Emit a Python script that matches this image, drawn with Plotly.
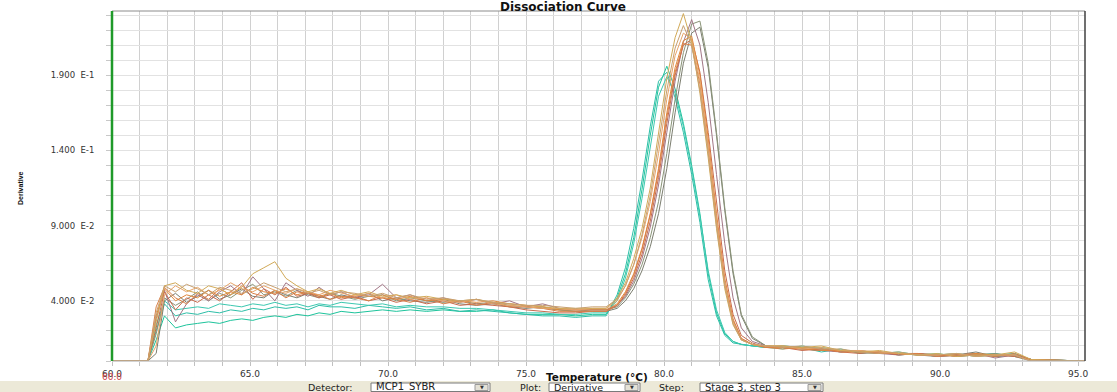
import plotly.graph_objects as go

# Temperature grid (deg C)
temperature = [60.0, 61.3, 61.6, 61.9, 62.3, 62.7, 63.1, 63.5, 63.9, 64.3, 64.7, 65.1, 65.5, 65.9,
               66.3, 66.7, 67.1, 67.5, 67.9, 68.3, 68.8, 69.3, 69.8, 70.3, 70.8, 71.4, 72.0, 72.6,
               73.2, 73.8, 74.4, 75.0, 75.6, 76.2, 76.8, 77.4, 77.9, 78.3, 78.6, 78.9, 79.2, 79.5,
               79.8, 80.1, 80.4, 80.7, 81.0, 81.3, 81.6, 81.9, 82.2, 82.5, 82.8, 83.2, 83.7, 84.3,
               85.0, 85.7, 86.4, 87.1, 87.8, 88.5, 89.2, 89.9, 90.6, 91.3, 92.0, 92.7, 93.3, 95.25]

# Derivative values, in units of 1e-3
teal_1 = [0, 0, 14, 30, 22, 24, 25, 26, 25, 27, 28, 27, 29, 30, 29, 31, 30, 32, 31, 33, 32, 33, 34, 33,
          34, 33, 34, 33, 33, 34, 32, 31, 31, 31, 30, 31,
          31, 42, 58, 82, 114, 150, 182, 196, 181, 158, 130, 98, 58, 32, 18, 13, 11, 10, 9,
          9, 8, 9, 7, 6, 5, 6, 4, 4, 5, 3, 4, 5, 1, 0]
teal_2 = [0, 0, 20, 38, 30, 32, 31, 33, 32, 34, 33, 35, 34, 36, 35, 36, 34, 37, 36, 36, 35, 37, 36, 35,
          36, 34, 35, 33, 34, 33, 32, 31, 30, 30, 29, 30,
          30, 44, 62, 88, 120, 156, 186, 192, 175, 152, 124, 92, 54, 30, 17, 12, 11, 10, 9,
          10, 9, 6, 8, 5, 6, 4, 5, 3, 4, 5, 3, 4, 1, 0]
teal_3 = [0, 0, 24, 40, 34, 35, 36, 35, 38, 37, 36, 38, 37, 39, 37, 38, 36, 38, 37, 39, 38, 37, 38, 36,
          37, 36, 36, 35, 35, 34, 33, 32, 32, 31, 31, 32,
          32, 40, 55, 78, 108, 143, 176, 189, 178, 156, 128, 96, 60, 34, 19, 13, 11, 10, 9,
          8, 10, 8, 6, 7, 5, 5, 4, 5, 3, 4, 5, 3, 1, 0]
orange_1 = [0, 0, 30, 48, 40, 44, 42, 47, 43, 46, 44, 49, 46, 45, 48, 44, 46, 43, 45, 42, 44, 43, 42, 41,
            43, 40, 41, 40, 39, 40, 38, 37, 36, 34, 34, 34,
            34, 38, 46, 58, 75, 98, 128, 165, 195, 213, 216, 190, 148, 98, 55, 28, 15, 11, 9,
            9, 8, 7, 7, 6, 6, 5, 4, 4, 4, 5, 4, 4, 0, 0]
orange_2 = [0, 0, 36, 49, 42, 38, 45, 41, 48, 44, 50, 45, 43, 47, 42, 46, 45, 44, 41, 43, 42, 40, 44, 41,
            39, 42, 38, 40, 37, 39, 36, 36, 35, 33, 33, 33,
            33, 37, 45, 57, 74, 97, 126, 162, 192, 211, 210, 184, 142, 94, 52, 27, 15, 11, 9,
            8, 9, 8, 6, 6, 5, 5, 5, 3, 4, 4, 3, 5, 1, 0]
orange_3 = [0, 0, 10, 44, 50, 46, 49, 44, 47, 52, 48, 46, 50, 47, 45, 48, 46, 44, 47, 45, 43, 45, 42, 44,
            41, 42, 40, 39, 41, 38, 37, 36, 35, 35, 34, 35,
            35, 40, 50, 64, 82, 106, 138, 174, 203, 218, 214, 186, 143, 94, 52, 26, 14, 11, 10,
            10, 8, 9, 7, 7, 6, 5, 4, 4, 5, 3, 4, 4, 0, 0]
rust_1 = [0, 0, 22, 46, 34, 42, 39, 44, 40, 46, 52, 41, 48, 44, 49, 43, 45, 42, 44, 41, 43, 40, 42, 39,
          41, 38, 40, 37, 38, 37, 36, 34, 33, 32, 32, 33,
          33, 37, 44, 55, 71, 93, 122, 158, 190, 210, 214, 192, 152, 104, 60, 31, 17, 12, 9,
          9, 7, 8, 6, 5, 6, 4, 5, 4, 3, 4, 4, 3, 1, 0]
gray_1 = [0, 0, 5, 40, 45, 39, 43, 47, 41, 44, 48, 43, 42, 47, 44, 42, 45, 43, 41, 44, 42, 45, 40, 42,
          40, 39, 41, 38, 37, 38, 36, 35, 36, 34, 33, 33,
          33, 35, 40, 48, 60, 76, 98, 128, 165, 198, 218, 222, 195, 150, 100, 58, 30, 15, 10,
          9, 8, 7, 7, 6, 5, 5, 4, 3, 4, 6, 3, 4, 1, 0]
gray_2 = [0, 0, 18, 42, 37, 41, 46, 40, 45, 42, 47, 51, 44, 46, 43, 47, 44, 42, 45, 43, 41, 43, 44, 40,
          42, 40, 39, 40, 38, 39, 37, 36, 35, 34, 33, 34,
          34, 36, 42, 51, 64, 82, 106, 138, 174, 205, 224, 226, 198, 152, 102, 60, 31, 16, 10,
          10, 9, 8, 7, 6, 6, 5, 5, 4, 4, 4, 5, 3, 0, 0]
tan_1 = [0, 0, 26, 50, 52, 47, 45, 50, 48, 44, 49, 58, 62, 66, 55, 50, 46, 48, 45, 47, 44, 46, 43, 44,
         42, 43, 41, 40, 41, 39, 38, 37, 36, 35, 35, 35,
         35, 42, 52, 68, 88, 115, 150, 188, 215, 231, 212, 178, 135, 88, 48, 24, 14, 11, 10,
         10, 9, 10, 7, 6, 7, 5, 4, 5, 3, 4, 4, 6, 1, 0]
tan_2 = [0, 0, 32, 50, 46, 51, 48, 44, 49, 47, 45, 48, 52, 49, 46, 48, 45, 47, 44, 46, 45, 43, 45, 42,
         44, 41, 42, 40, 41, 39, 38, 37, 37, 36, 35, 36,
         36, 41, 50, 64, 84, 110, 144, 180, 208, 223, 210, 180, 138, 90, 50, 25, 14, 11, 10,
         9, 10, 8, 8, 6, 5, 6, 4, 4, 5, 3, 4, 4, 0, 0]
mauve_1 = [0, 0, 28, 47, 26, 38, 44, 40, 46, 50, 44, 56, 48, 40, 52, 47, 43, 49, 44, 46, 42, 44, 51, 42,
           44, 40, 42, 39, 41, 38, 40, 36, 38, 35, 34, 34,
           34, 37, 43, 53, 68, 89, 117, 152, 186, 212, 227, 210, 172, 124, 78, 42, 22, 13, 10,
           9, 8, 7, 6, 7, 5, 4, 5, 3, 4, 5, 2, 4, 1, 0]

series = [
    ("teal_1", teal_1, "#1EC49C"), ("teal_2", teal_2, "#2DBFA8"), ("teal_3", teal_3, "#3CC8B0"),
    ("gray_1", gray_1, "#7C7E70"), ("gray_2", gray_2, "#8A9478"), ("mauve_1", mauve_1, "#A27686"),
    ("rust_1", rust_1, "#C86A4C"), ("orange_1", orange_1, "#E0883C"), ("orange_2", orange_2, "#D98048"),
    ("orange_3", orange_3, "#E8A468"), ("tan_1", tan_1, "#D2AA58"), ("tan_2", tan_2, "#C8A070"),
]

x_ticks = list(range(60, 96))
x_ticktext = [f"{t}.0" if t % 5 == 0 else "" for t in x_ticks]
y_ticks = [i / 100 for i in range(0, 24)]
y_labels = {4: "4.000\u00a0\u00a0E-2", 9: "9.000\u00a0\u00a0E-2", 14: "1.400\u00a0\u00a0E-1", 19: "1.900\u00a0\u00a0E-1"}
y_ticktext = [y_labels.get(i, "") for i in range(0, 24)]

W, H = 1117, 392
L, R, T, B = 112, 1085, 11, 361


def px(xp):
    return (xp - L) / (R - L)


def py(yp):
    return (B - yp) / (B - T)


fig = go.Figure()
for name, vals, color in series:
    fig.add_trace(go.Scatter(x=temperature, y=[v / 1000 for v in vals], mode="lines", name=name,
                             line=dict(color=color, width=1), showlegend=False))

font = "DejaVu Sans"
fig.update_layout(
    width=W, height=H, paper_bgcolor="white", plot_bgcolor="white",
    margin=dict(l=L, r=W - R, t=T, b=H - B),
    xaxis=dict(range=[60, 95.25], tickmode="array", tickvals=x_ticks, ticktext=x_ticktext,
               showgrid=True, gridcolor="#D0D0D0", gridwidth=1.3, zeroline=False, showline=False,
               ticks="outside", ticklen=4, tickcolor="#C0C0C0",
               tickfont=dict(family=font, size=9, color="#333333")),
    yaxis=dict(range=[0, 0.2327], tickmode="array", tickvals=y_ticks, ticktext=y_ticktext,
               showgrid=True, gridcolor="#E2E2E2", gridwidth=1, zeroline=False, showline=False,
               ticks="outside", ticklen=5, tickcolor="#C8C8C8", ticklabelstandoff=10,
               tickfont=dict(family=font, size=8.5, color="#333333")),
)

shapes = [
    # bottom control bar
    dict(type="rect", xref="paper", yref="paper", x0=px(0), x1=px(W), y0=py(392), y1=py(381),
         fillcolor="#ECE9D8", line=dict(width=0), layer="below"),
    # plot borders
    dict(type="line", xref="paper", yref="paper", x0=0, x1=1, y0=1, y1=1, line=dict(color="#8C8C8C", width=1)),
    dict(type="line", xref="paper", yref="paper", x0=0, x1=1, y0=0, y1=0, line=dict(color="#A8A8A8", width=1)),
    dict(type="line", xref="paper", yref="paper", x0=1, x1=1, y0=0, y1=1, line=dict(color="#404040", width=1.5)),
    dict(type="line", xref="paper", yref="paper", x0=0, x1=0, y0=0, y1=1, line=dict(color="#1F9A2A", width=2.5)),
]

boxes = [(371, 490, "MCP1_SYBR", 10), (549, 640, "Derivative", 9.5), (700, 823, "Stage 3, step 3", 10)]
annotations = []
for x0, x1, label, fs in boxes:
    shapes.append(dict(type="rect", xref="paper", yref="paper", x0=px(x0), x1=px(x1), y0=py(391.5), y1=py(383),
                       fillcolor="white", line=dict(color="#7A7A7A", width=1)))
    shapes.append(dict(type="rect", xref="paper", yref="paper", x0=px(x1 - 15), x1=px(x1 - 2), y0=py(390.5),
                       y1=py(384.5), fillcolor="#E4E1D6", line=dict(color="#9A9A9A", width=1)))
    annotations.append(dict(x=px(x0 + 3), y=py(387.5), xref="paper", yref="paper", text=label,
                            showarrow=False, xanchor="left", yanchor="middle",
                            font=dict(family=font, size=fs, color="#222222")))
    annotations.append(dict(x=px(x1 - 8.5), y=py(387.5), xref="paper", yref="paper", text="\u25BC",
                            showarrow=False, xanchor="center", yanchor="middle",
                            font=dict(family=font, size=5, color="#333333")))

for xc, label in [(330, "Detector:"), (530, "Plot:"), (671, "Step:")]:
    annotations.append(dict(x=px(xc), y=py(387.5), xref="paper", yref="paper", text=label,
                            showarrow=False, xanchor="center", yanchor="middle",
                            font=dict(family=font, size=9.5, color="#222222")))

annotations += [
    dict(x=px(563), y=py(7), xref="paper", yref="paper", text="<b>Dissociation Curve</b>",
         showarrow=False, xanchor="center", yanchor="middle", font=dict(family=font, size=12, color="#111111")),
    dict(x=px(597), y=py(377), xref="paper", yref="paper", text="<b>Temperature (°C)</b>",
         showarrow=False, xanchor="center", yanchor="middle", font=dict(family=font, size=10.5, color="#111111")),
    dict(x=px(20), y=py(188), xref="paper", yref="paper", text="<b>Derivative</b>", textangle=-90,
         showarrow=False, xanchor="center", yanchor="middle", font=dict(family="Liberation Sans", size=7, color="#111111")),
    dict(x=px(112), y=py(376.5), xref="paper", yref="paper", text="60.0",
         showarrow=False, xanchor="center", yanchor="middle", font=dict(family=font, size=9, color="#D04848")),
]

fig.update_layout(shapes=shapes, annotations=annotations)
fig.write_html("out.html", config={"displayModeBar": False},
               post_script="document.body.style.margin='0';document.body.style.overflow='hidden';")
